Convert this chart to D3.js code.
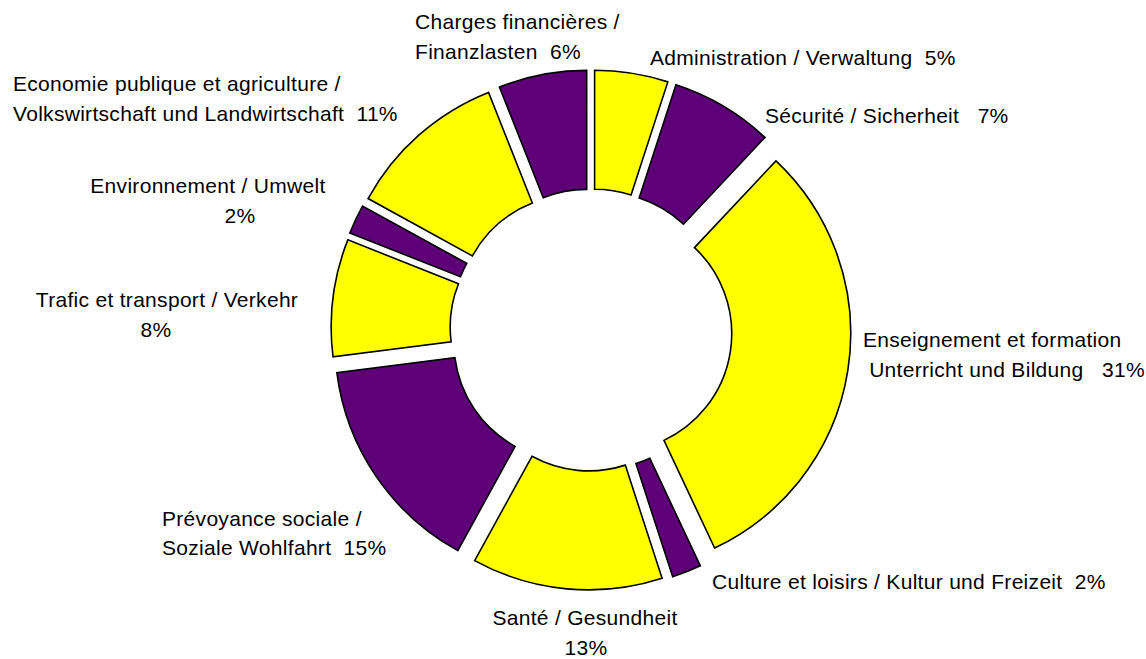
<!DOCTYPE html>
<html>
<head>
<meta charset="utf-8">
<script src="https://cdn.jsdelivr.net/npm/d3@7"></script>
<style>
  html, body { margin: 0; padding: 0; background: #ffffff; }
  svg { display: block; }
  text { font-family: "Liberation Sans", Arial, sans-serif; fill: #000; white-space: pre; }
</style>
</head>
<body>
<svg id="chart" width="1146" height="659"></svg>
<script>
// Budget shares by function (percent), clockwise from 12 o'clock
const categories = [
  "Administration / Verwaltung",
  "Sécurité / Sicherheit",
  "Enseignement et formation / Unterricht und Bildung",
  "Culture et loisirs / Kultur und Freizeit",
  "Santé / Gesundheit",
  "Prévoyance sociale / Soziale Wohlfahrt",
  "Trafic et transport / Verkehr",
  "Environnement / Umwelt",
  "Economie publique et agriculture / Volkswirtschaft und Landwirtschaft",
  "Charges financières / Finanzlasten"
];
const values = [5, 7, 31, 2, 13, 15, 8, 2, 11, 6];

// Label text, line by line; "%p" is replaced with the slice's percentage
const labelLines = [
  ["Administration / Verwaltung  %p"],
  ["Sécurité / Sicherheit   %p"],
  ["Enseignement et formation", " Unterricht und Bildung   %p"],
  ["Culture et loisirs / Kultur und Freizeit  %p"],
  ["Santé / Gesundheit", "%p"],
  ["Prévoyance sociale /", "Soziale Wohlfahrt  %p"],
  ["Trafic et transport / Verkehr", "%p"],
  ["Environnement / Umwelt", "%p"],
  ["Economie publique et agriculture /", "Volkswirtschaft und Landwirtschaft  %p"],
  ["Charges financières /", "Finanzlasten  %p"]
];

// Label placement: [x, baseline, anchor] for each line
const labelLayout = [
  [[650, 65, "start"]],
  [[765, 123, "start"]],
  [[863, 347, "start"], [863, 377, "start"]],
  [[712, 589, "start"]],
  [[585, 625, "middle"], [586, 655, "middle"]],
  [[162, 526, "start"], [162, 555, "start"]],
  [[167, 307, "middle"], [156, 337, "middle"]],
  [[208, 193, "middle"], [240, 223, "middle"]],
  [[13, 91, "start"], [13, 121, "start"]],
  [[415, 29, "start"], [415, 59, "start"]]
];

const sliceColors = ["#ffff00", "#5e0078"];

const width = 1146, height = 659;
const cx = 591, cy = 330;
const outerR = 237, innerR = 118, explode = 23;

const svg = d3.select("#chart");

const pie = d3.pie().sort(null).startAngle(0).endAngle(2 * Math.PI);
const arcs = pie(values);

const arc = d3.arc().innerRadius(innerR).outerRadius(outerR);

const g = svg.append("g").attr("transform", `translate(${cx},${cy})`);

// Each ring segment is pushed outward along its bisector
g.selectAll("path.slice")
  .data(arcs)
  .join("path")
  .attr("class", "slice")
  .attr("d", arc)
  .attr("transform", d => {
    const a = (d.startAngle + d.endAngle) / 2;
    return `translate(${explode * Math.sin(a)},${-explode * Math.cos(a)})`;
  })
  .attr("fill", (d, i) => sliceColors[i % 2])
  .attr("stroke", "#000")
  .attr("stroke-width", 1.6)
  .attr("stroke-linejoin", "miter");

// Category labels with percentages
const labels = svg.append("g").attr("class", "labels");
arcs.forEach((d, i) => {
  const pct = values[i] + "%";
  labelLines[i].forEach((line, j) => {
    const [x, y, anchor] = labelLayout[i][j];
    labels.append("text")
      .attr("x", x)
      .attr("y", y)
      .attr("text-anchor", anchor)
      .attr("font-size", 21)
      .attr("letter-spacing", 0.3)
      .attr("xml:space", "preserve")
      .text(line.replace("%p", pct));
  });
});
</script>
</body>
</html>
